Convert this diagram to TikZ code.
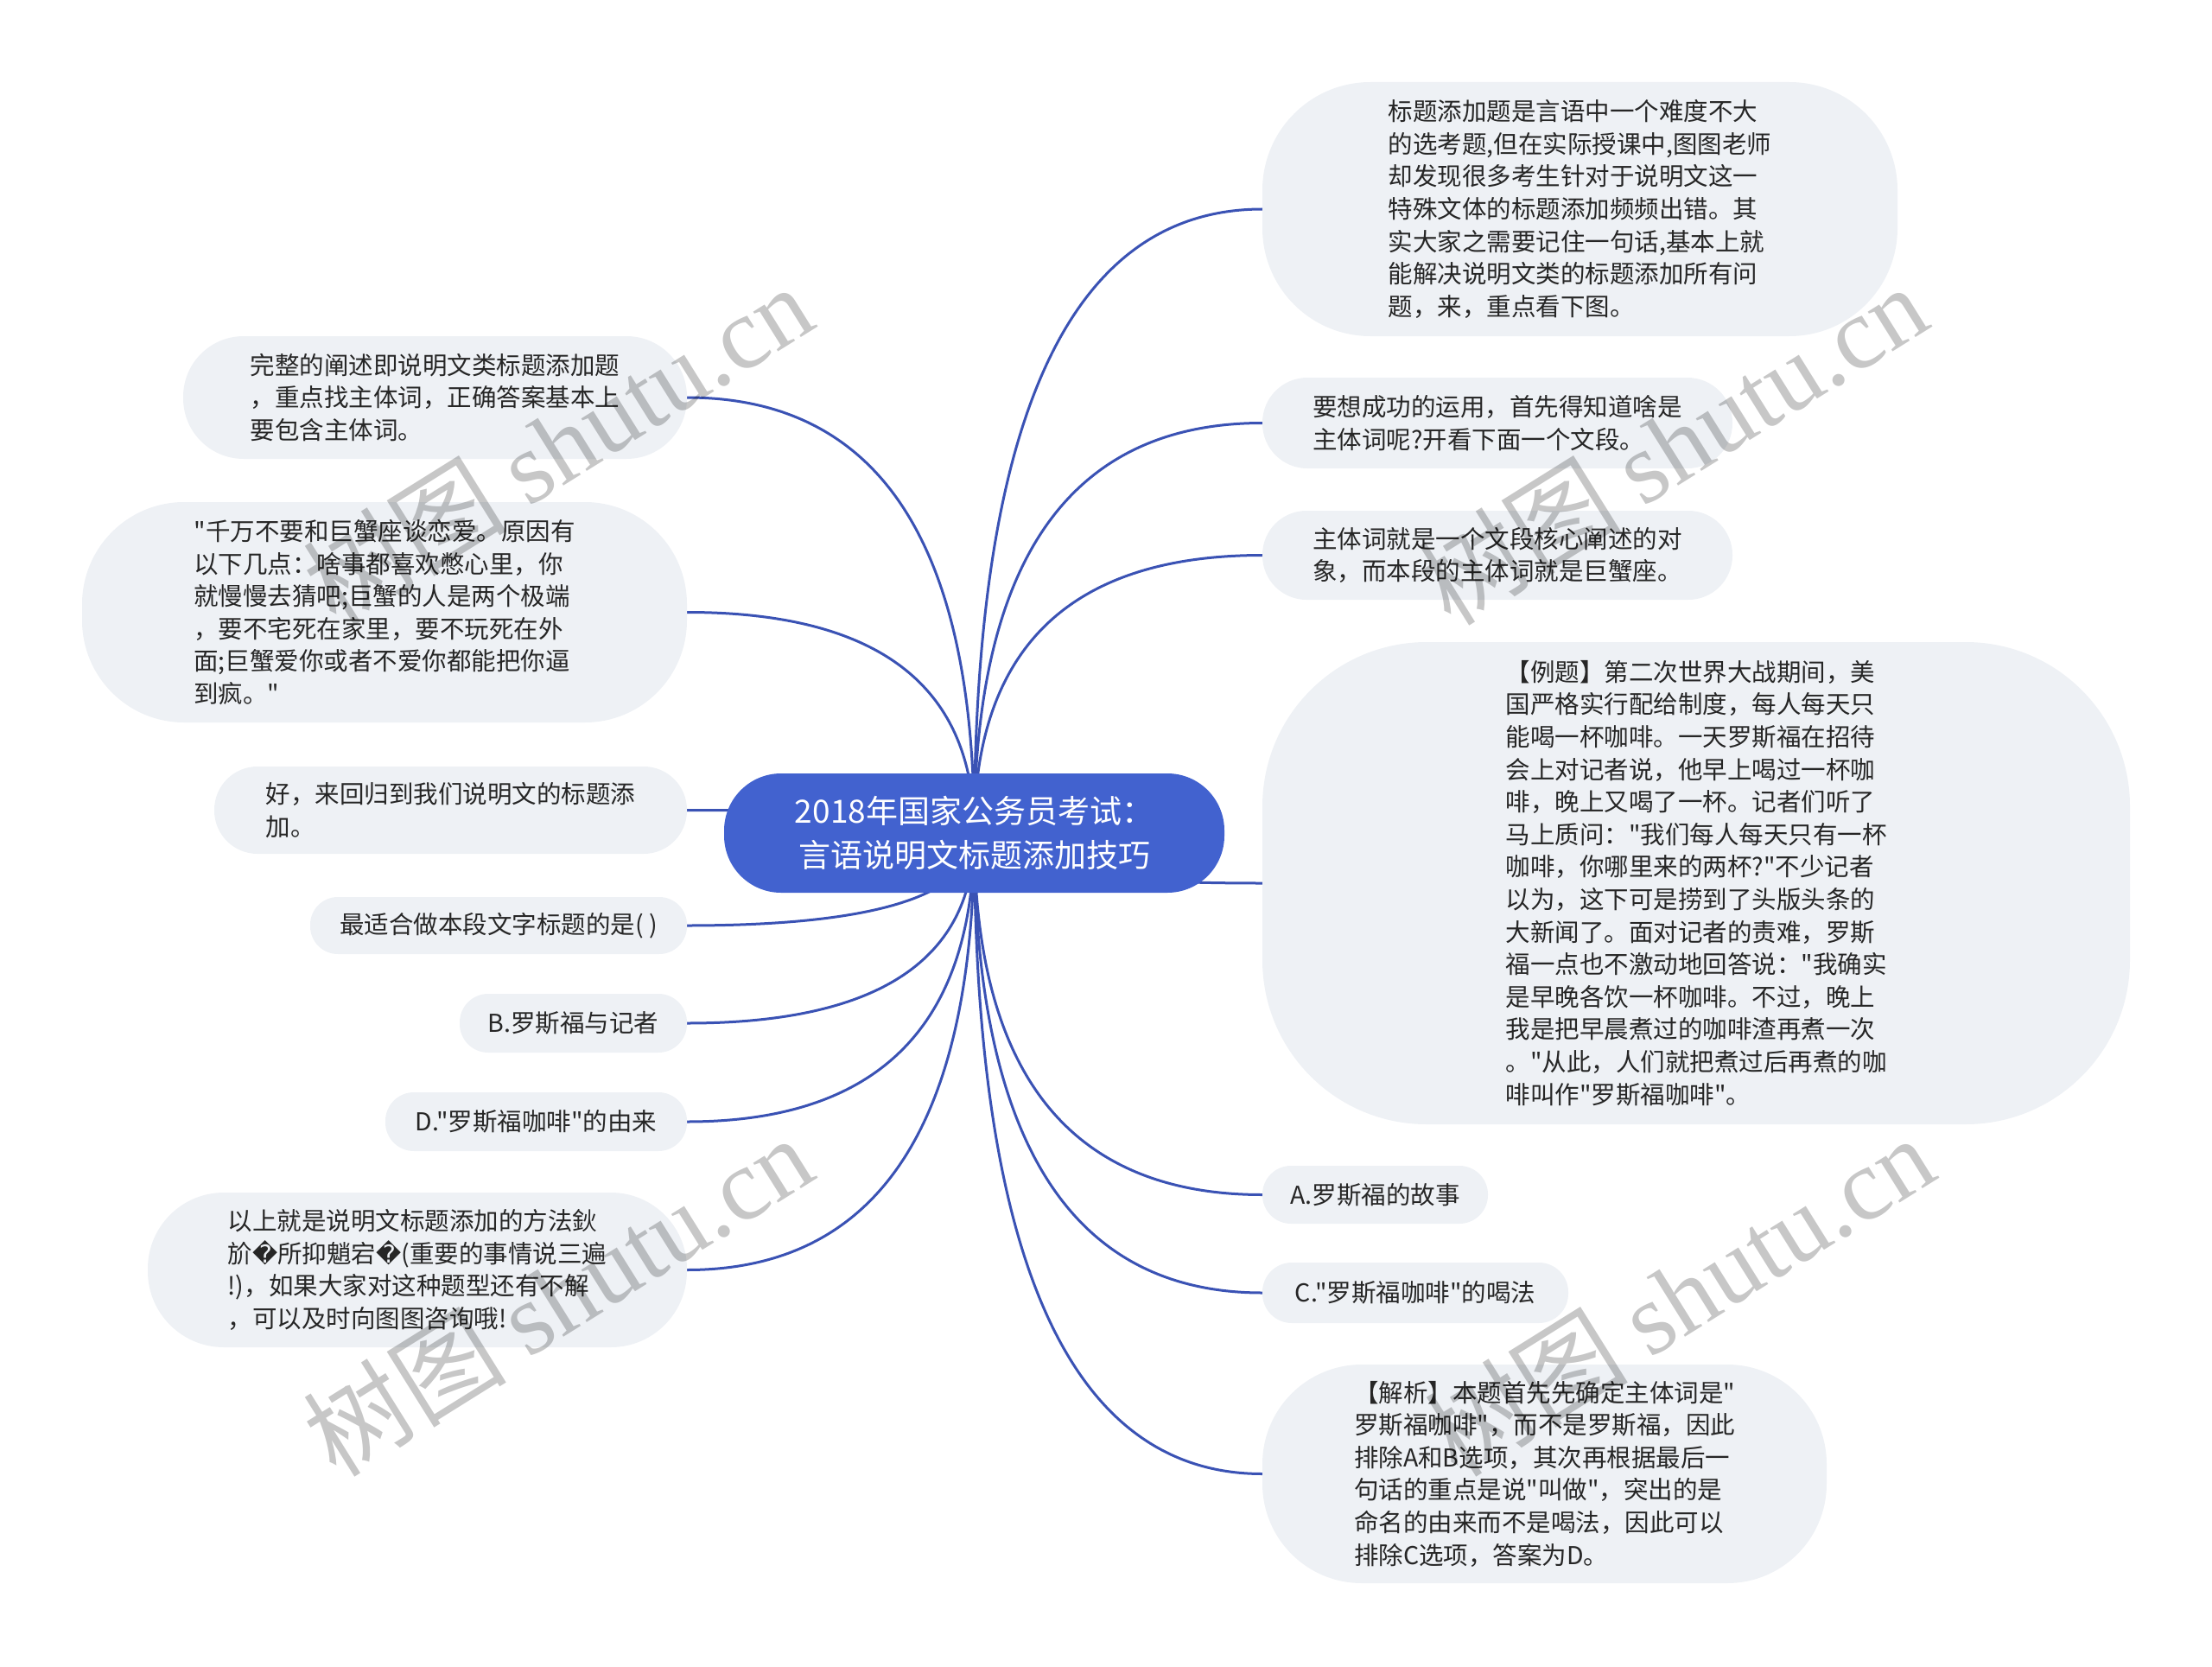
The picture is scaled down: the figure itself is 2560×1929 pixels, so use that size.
\documentclass[tikz,border=0pt]{standalone}
\usepackage{fontspec}
\newfontfamily\cjk{Noto Sans CJK SC}
\newfontfamily\wmserif{Liberation Serif}
\newfontfamily\dvs{DejaVu Sans}
\usetikzlibrary{calc,backgrounds}

\definecolor{leafbg}{HTML}{EEF1F5}
\definecolor{leaftext}{HTML}{262626}
\definecolor{topicbg}{HTML}{4262CF}
\definecolor{linkblue}{HTML}{3A52B4}

\tikzset{
    leaf/.style={fill=leafbg, text=leaftext, inner sep=0pt, align=left,
        font=\cjk\fontsize{28.5pt}{37.6pt}\selectfont},
    topic/.style={fill=topicbg, text=white, inner sep=0pt, align=center,
        font=\cjk\fontsize{37pt}{50.6pt}\selectfont},
    link/.style={draw=linkblue, line width=3pt},
    quadcurve/.style={to path={.. controls ($(\tikztostart)!2/3!(\tikztostart |- \tikztotarget)$)
        and ($(\tikztotarget)!2/3!(\tikztostart |- \tikztotarget)$) .. (\tikztotarget)}},
    watermark/.style={text=black, opacity=0.22, rotate=32, inner sep=0pt,
        font=\cjk\fontsize{118pt}{118pt}\selectfont}
}

\begin{document}
\begin{tikzpicture}[x=1pt, y=-1pt]
    \useasboundingbox (0,0) rectangle (2560,1929);

    % centre topic
    \node[topic, minimum width=579pt, minimum height=138pt, rounded corners=66pt] (topic) at (1127.5,964)
        {2018年国家公务员考试：\\言语说明文标题添加技巧};

    % right side
    \node[leaf, minimum width=735pt, minimum height=294pt, rounded corners=125pt] (rA) at (1828.5,242)
        {标题添加题是言语中一个难度不大\\的选考题,但在实际授课中,图图老师\\却发现很多考生针对于说明文这一\\特殊文体的标题添加频频出错。其\\实大家之需要记住一句话,基本上就\\能解决说明文类的标题添加所有问\\题，来，重点看下图。};
    \node[leaf, minimum width=544pt, minimum height=105pt, rounded corners=52pt] (rB) at (1733,489.5)
        {要想成功的运用，首先得知道啥是\\主体词呢?开看下面一个文段。};
    \node[leaf, minimum width=544pt, minimum height=103pt, rounded corners=51pt] (rC) at (1733,642.5)
        {主体词就是一个文段核心阐述的对\\象，而本段的主体词就是巨蟹座。};
    \node[leaf, minimum width=1004pt, minimum height=558pt, rounded corners=190pt] (rD) at (1963,1022)
        {【例题】第二次世界大战期间，美\\国严格实行配给制度，每人每天只\\能喝一杯咖啡。一天罗斯福在招待\\会上对记者说，他早上喝过一杯咖\\啡，晚上又喝了一杯。记者们听了\\马上质问："我们每人每天只有一杯\\咖啡，你哪里来的两杯?"不少记者\\以为，这下可是捞到了头版头条的\\大新闻了。面对记者的责难，罗斯\\福一点也不激动地回答说："我确实\\是早晚各饮一杯咖啡。不过，晚上\\我是把早晨煮过的咖啡渣再煮一次\\。"从此，人们就把煮过后再煮的咖\\啡叫作"罗斯福咖啡"。};
    \node[leaf, minimum width=261pt, minimum height=67pt, rounded corners=33pt] (rE) at (1591.5,1382.5)
        {A.罗斯福的故事};
    \node[leaf, minimum width=354pt, minimum height=70pt, rounded corners=34pt] (rF) at (1638,1496)
        {C."罗斯福咖啡"的喝法};
    \node[leaf, minimum width=653pt, minimum height=253pt, rounded corners=115pt] (rG) at (1787.5,1705.5)
        {【解析】本题首先先确定主体词是"\\罗斯福咖啡"，而不是罗斯福，因此\\排除A和B选项，其次再根据最后一\\句话的重点是说"叫做"，突出的是\\命名的由来而不是喝法，因此可以\\排除C选项，答案为D。};

    % left side
    \node[leaf, minimum width=583pt, minimum height=142pt, rounded corners=70pt] (lA) at (503.5,460)
        {完整的阐述即说明文类标题添加题\\，重点找主体词，正确答案基本上\\要包含主体词。};
    \node[leaf, minimum width=700pt, minimum height=255pt, rounded corners=118pt] (lB) at (445,708.5)
        {"千万不要和巨蟹座谈恋爱。原因有\\以下几点：啥事都喜欢憋心里，你\\就慢慢去猜吧;巨蟹的人是两个极端\\，要不宅死在家里，要不玩死在外\\面;巨蟹爱你或者不爱你都能把你逼\\到疯。"};
    \node[leaf, minimum width=547pt, minimum height=101pt, rounded corners=50pt] (lC) at (521.5,937.5)
        {好，来回归到我们说明文的标题添\\加。};
    \node[leaf, minimum width=436pt, minimum height=66pt, rounded corners=32pt] (lD) at (577,1071)
        {最适合做本段文字标题的是( )};
    \node[leaf, minimum width=263pt, minimum height=68pt, rounded corners=33pt] (lE) at (663.5,1184)
        {B.罗斯福与记者};
    \node[leaf, minimum width=349pt, minimum height=68pt, rounded corners=33pt] (lF) at (620.5,1298)
        {D."罗斯福咖啡"的由来};
    \node[leaf, minimum width=624pt, minimum height=179pt, rounded corners=88pt] (lG) at (483,1469.5)
        {以上就是说明文标题添加的方法鈥\\斺{\dvs �}所抑魈宕{\dvs �}(重要的事情说三遍\\!)，如果大家对这种题型还有不解\\，可以及时向图图咨询哦!};

    % branches
    \begin{scope}[on background layer]
        \draw[link] (topic.center) to[quadcurve] (rA.west);
        \draw[link] (topic.center) to[quadcurve] (rB.west);
        \draw[link] (topic.center) to[quadcurve] (rC.west);
        \draw[link] (topic.center) to[quadcurve] (rD.west);
        \draw[link] (topic.center) to[quadcurve] (rE.west);
        \draw[link] (topic.center) to[quadcurve] (rF.west);
        \draw[link] (topic.center) to[quadcurve] (rG.west);
        \draw[link] (topic.center) to[quadcurve] (lA.east);
        \draw[link] (topic.center) to[quadcurve] (lB.east);
        \draw[link] (topic.center) to[quadcurve] (lC.east);
        \draw[link] (topic.center) to[quadcurve] (lD.east);
        \draw[link] (topic.center) to[quadcurve] (lE.east);
        \draw[link] (topic.center) to[quadcurve] (lF.east);
        \draw[link] (topic.center) to[quadcurve] (lG.east);
    \end{scope}

    % watermarks
    \node[watermark] (wm1) at (645,514) {树图 {\wmserif shutu.cn}};
    \node[watermark] (wm2) at (1935,514) {树图 {\wmserif shutu.cn}};
    \node[watermark] (wm3) at (645,1499) {树图 {\wmserif shutu.cn}};
    \node[watermark] (wm4) at (1943,1499) {树图 {\wmserif shutu.cn}};
\end{tikzpicture}
\end{document}
